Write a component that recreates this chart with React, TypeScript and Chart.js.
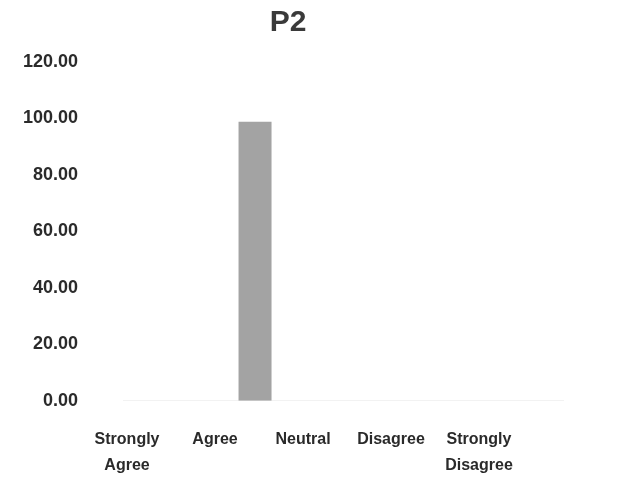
import React, { useEffect, useRef } from "react";
import { Chart, registerables } from "chart.js";

Chart.register(...registerables);

const categories: string[][] = [
  ["Strongly", "Agree"],
  ["Agree"],
  ["Neutral"],
  ["Disagree"],
  ["Strongly", "Disagree"],
];
const values: number[] = [0, 98.8, 0, 0, 0];
const yTicks = { min: 0, max: 120, step: 20 };
const titleText = "P2";

export default function App() {
  const ref = useRef<HTMLCanvasElement | null>(null);
  useEffect(() => {
    if (!ref.current) return;
    const chart = new Chart(ref.current, {
      type: "bar",
      data: {
        labels: categories,
        datasets: [
          {
            data: values,
            backgroundColor: "#a3a3a3",
            borderWidth: 0,
            barPercentage: 0.375,
            categoryPercentage: 1,
          },
        ],
      },
      options: {
        animation: false,
        responsive: true,
        maintainAspectRatio: false,
        layout: { padding: { left: 5, right: 48, top: 0, bottom: 0 } },
        plugins: {
          legend: { display: false },
          tooltip: { enabled: false },
          title: {
            display: true,
            text: titleText,
            color: "#3a3a3a",
            font: { family: "Liberation Sans", size: 30, weight: "bold", lineHeight: 1 },
            padding: { top: 0, bottom: 24 },
          },
        },
        scales: {
          x: {
            grid: { display: false, drawTicks: true, tickLength: 28 },
            border: { display: true, color: "#f2f2f2" },
            ticks: {
              color: "#2a2a2a",
              font: { family: "Liberation Sans", size: 16, weight: "bold", lineHeight: 1.6 },
              padding: -2,
              labelOffset: -40,
              maxRotation: 0,
              autoSkip: false,
            },
          },
          y: {
            min: yTicks.min,
            max: yTicks.max,
            grid: { display: false, drawTicks: true, tickLength: 35 },
            border: { display: false },
            ticks: {
              stepSize: yTicks.step,
              color: "#2a2a2a",
              font: { family: "Liberation Sans", size: 18, weight: "bold" },
              padding: 10,
              callback: (v: any) => Number(v).toFixed(2),
            },
          },
        },
      },
    });
    return () => chart.destroy();
  }, []);
  return (
    <div style={{ width: 603, height: 468, position: "relative" }}>
      <canvas ref={ref} />
    </div>
  );
}
